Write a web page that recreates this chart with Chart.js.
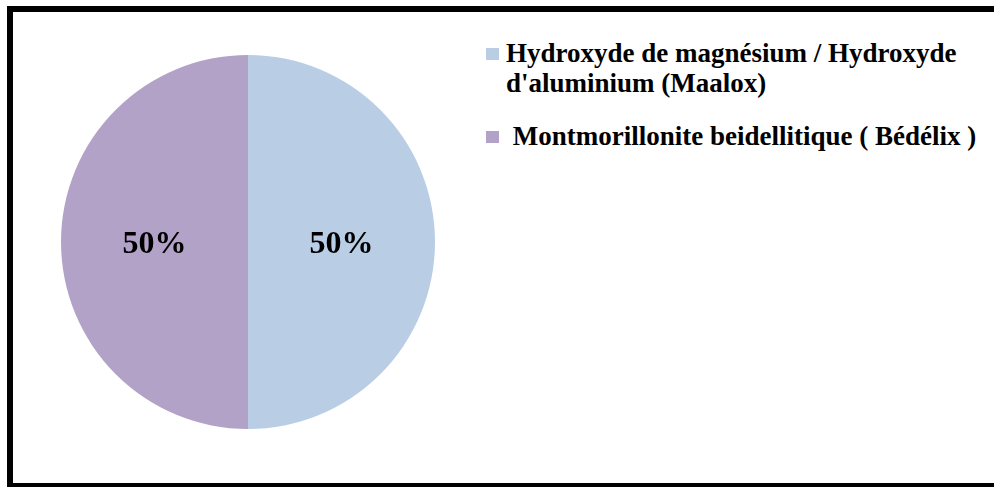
<!DOCTYPE html>
<html lang="fr">

<head>
    <meta charset="UTF-8">
    <title>Répartition</title>
    <script src="https://cdn.jsdelivr.net/npm/chart.js"></script>
    <style>
        html, body {
            margin: 0;
            padding: 0;
            width: 994px;
            height: 487px;
            overflow: hidden;
            background: #ffffff;
        }

        .frame {
            position: absolute;
            left: 7px;
            top: 6px;
            width: 1100px;
            height: 483px;
            box-sizing: border-box;
            border: 6px solid #000;
        }

        #pieWrap {
            position: absolute;
            left: 61px;
            top: 55px;
            width: 374px;
            height: 374px;
        }

        #legend {
            position: absolute;
            left: 486px;
            top: 38px;
            font-family: "Liberation Serif", "Times New Roman", serif;
            font-weight: bold;
            font-size: 27px;
            line-height: 30px;
            color: #000;
        }

        .legend-item {
            display: flex;
            align-items: flex-start;
            margin-bottom: 23px;
        }

        .legend-box {
            width: 13px;
            height: 12px;
            margin-top: 10px;
            margin-right: 7px;
            flex: none;
        }

        .legend-text {
            width: 485px;
            white-space: pre-wrap;
        }
    </style>
</head>

<body>

    <div class="frame"></div>
    <div id="pieWrap"><canvas id="myChart" width="374" height="374"></canvas></div>
    <div id="legend"></div>

    <script>
        const labels = [
            'Hydroxyde de magnésium / Hydroxyde d\'aluminium (Maalox)',
            ' Montmorillonite beidellitique ( Bédélix )'
        ];
        const values = [50, 50];
        const colors = ['#B9CDE5', '#B3A2C7'];

        // percent labels inside each slice
        const sliceLabels = {
            id: 'sliceLabels',
            afterDatasetsDraw(chart) {
                const ctx = chart.ctx;
                const total = values.reduce((a, b) => a + b, 0);
                const meta = chart.getDatasetMeta(0);
                ctx.save();
                ctx.font = 'bold 32px "Liberation Serif", "Times New Roman", serif';
                ctx.fillStyle = '#000';
                ctx.textAlign = 'center';
                ctx.textBaseline = 'alphabetic';
                meta.data.forEach((arc, i) => {
                    const pos = arc.tooltipPosition();
                    const pct = Math.round(values[i] / total * 100) + '%';
                    ctx.fillText(pct, pos.x, pos.y + 11);
                });
                ctx.restore();
            }
        };

        const ctx = document.getElementById('myChart').getContext('2d');
        const chart = new Chart(ctx, {
            type: 'pie',
            data: {
                labels: labels,
                datasets: [{
                    data: values,
                    backgroundColor: colors,
                    borderWidth: 0
                }]
            },
            options: {
                responsive: false,
                animation: false,
                layout: { padding: 0 },
                plugins: {
                    legend: { display: false },
                    tooltip: { enabled: false }
                }
            },
            plugins: [sliceLabels]
        });

        // Legend built from the chart's own legend items
        const legendEl = document.getElementById('legend');
        chart.options.plugins.legend.labels.generateLabels(chart).forEach(item => {
            const row = document.createElement('div');
            row.className = 'legend-item';
            const box = document.createElement('span');
            box.className = 'legend-box';
            box.style.background = item.fillStyle;
            const txt = document.createElement('span');
            txt.className = 'legend-text';
            txt.textContent = item.text;
            row.appendChild(box);
            row.appendChild(txt);
            legendEl.appendChild(row);
        });
    </script>

</body>

</html>
